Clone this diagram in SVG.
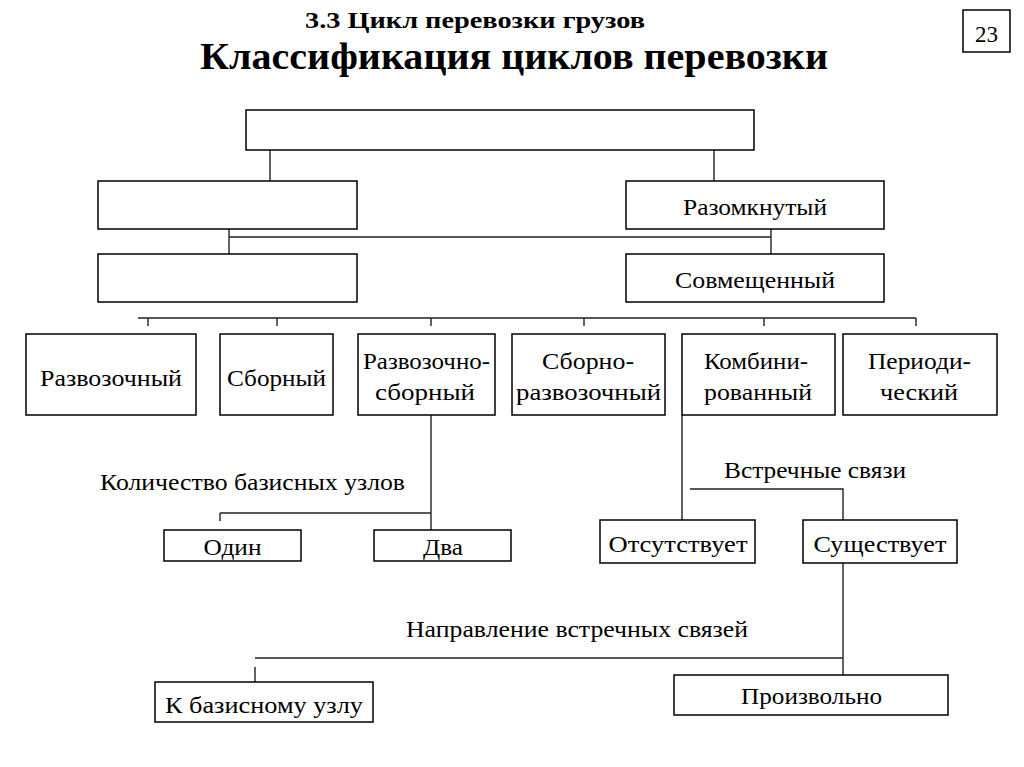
<svg xmlns="http://www.w3.org/2000/svg" width="1024" height="767" viewBox="0 0 1024 767">
<style>
.box{fill:#fff;stroke:#000;stroke-width:1.5}
.t{font-family:'Liberation Serif','DejaVu Serif',serif;font-size:23px;fill:#000;text-anchor:middle}
.h{font-family:'Liberation Serif','DejaVu Serif',serif;font-weight:bold;fill:#000;text-anchor:middle}
.c{fill:none;stroke:#222;stroke-width:1.4}
</style>
<rect width="1024" height="767" fill="#fff"/>
<g id="title">
<text class="h" x="475" y="28" font-size="24" textLength="340" lengthAdjust="spacingAndGlyphs">3.3 Цикл перевозки грузов</text>
<text class="h" x="514" y="69" font-size="38" textLength="628" lengthAdjust="spacingAndGlyphs">Классификация циклов перевозки</text>
</g>
<g id="page"><rect class="box" x="963" y="10" width="47" height="42"/><text class="t" x="986.5" y="42" font-size="28">23</text></g>
<g id="connectors">
<path class="c" d="M270 150V181M714 150V181"/>
<path class="c" d="M229 229V254M771 229V254M229 237H771"/>
<path class="c" d="M138 318H916M148 318V326M277 318V326M431 318V326M584 318V326M764 318V326M916 318V326"/>
<path class="c" d="M431 415V530M220 513H431M220 513V521"/>
<path class="c" d="M682 415V520M690 489H843V520"/>
<path class="c" d="M843 563V680M255 658H843M255 667V682"/>
</g>
<g id="root"><rect class="box" x="246" y="110" width="508" height="40"/></g>
<g id="left1"><rect class="box" x="98" y="181" width="259" height="48"/></g>
<g id="open"><rect class="box" x="626" y="181" width="258" height="48"/><text class="t" x="755" y="215" textLength="144" lengthAdjust="spacingAndGlyphs">Разомкнутый</text></g>
<g id="left2"><rect class="box" x="98" y="254" width="259" height="48"/></g>
<g id="combined"><rect class="box" x="626" y="254" width="258" height="48"/><text class="t" x="755" y="288" textLength="160" lengthAdjust="spacingAndGlyphs">Совмещенный</text></g>
<g id="razv"><rect class="box" x="26" y="334" width="170" height="81"/><text class="t" x="111" y="386" textLength="142" lengthAdjust="spacingAndGlyphs">Развозочный</text></g>
<g id="sbor"><rect class="box" x="220" y="334" width="113" height="81"/><text class="t" x="276.5" y="386" textLength="99" lengthAdjust="spacingAndGlyphs">Сборный</text></g>
<g id="razvsbor"><rect class="box" x="358" y="334" width="137" height="81"/><text class="t" x="426.5" y="369" textLength="127" lengthAdjust="spacingAndGlyphs">Развозочно-</text><text class="t" x="425" y="400" textLength="100" lengthAdjust="spacingAndGlyphs">сборный</text></g>
<g id="sborrazv"><rect class="box" x="512" y="334" width="153" height="81"/><text class="t" x="588" y="369" textLength="92" lengthAdjust="spacingAndGlyphs">Сборно-</text><text class="t" x="588.5" y="400" textLength="145" lengthAdjust="spacingAndGlyphs">развозочный</text></g>
<g id="komb"><rect class="box" x="682" y="334" width="153" height="81"/><text class="t" x="756" y="369" textLength="104" lengthAdjust="spacingAndGlyphs">Комбини-</text><text class="t" x="758" y="400" textLength="108" lengthAdjust="spacingAndGlyphs">рованный</text></g>
<g id="period"><rect class="box" x="843" y="334" width="154" height="81"/><text class="t" x="919.5" y="369" textLength="103" lengthAdjust="spacingAndGlyphs">Периоди-</text><text class="t" x="919" y="400" textLength="78" lengthAdjust="spacingAndGlyphs">ческий</text></g>
<g id="lbl1"><text class="t" x="252.5" y="490" textLength="305" lengthAdjust="spacingAndGlyphs">Количество базисных узлов</text></g>
<g id="odin"><rect class="box" x="164" y="530" width="137" height="31"/><text class="t" x="232.5" y="555" textLength="58" lengthAdjust="spacingAndGlyphs">Один</text></g>
<g id="dva"><rect class="box" x="374" y="530" width="137" height="31"/><text class="t" x="443" y="555" textLength="40" lengthAdjust="spacingAndGlyphs">Два</text></g>
<g id="lbl2"><text class="t" x="815" y="478" textLength="182" lengthAdjust="spacingAndGlyphs">Встречные связи</text></g>
<g id="absent"><rect class="box" x="600" y="520" width="155" height="43"/><text class="t" x="678" y="552" textLength="139" lengthAdjust="spacingAndGlyphs">Отсутствует</text></g>
<g id="exists"><rect class="box" x="803" y="520" width="154" height="43"/><text class="t" x="880" y="552" textLength="133" lengthAdjust="spacingAndGlyphs">Существует</text></g>
<g id="lbl3"><text class="t" x="577" y="637" textLength="342" lengthAdjust="spacingAndGlyphs">Направление встречных связей</text></g>
<g id="tobase"><rect class="box" x="155" y="682" width="218" height="40"/><text class="t" x="264" y="713" textLength="198" lengthAdjust="spacingAndGlyphs">К базисному узлу</text></g>
<g id="arbitrary"><rect class="box" x="674" y="675" width="274" height="40"/><text class="t" x="811.5" y="704" textLength="141" lengthAdjust="spacingAndGlyphs">Произвольно</text></g>
</svg>
